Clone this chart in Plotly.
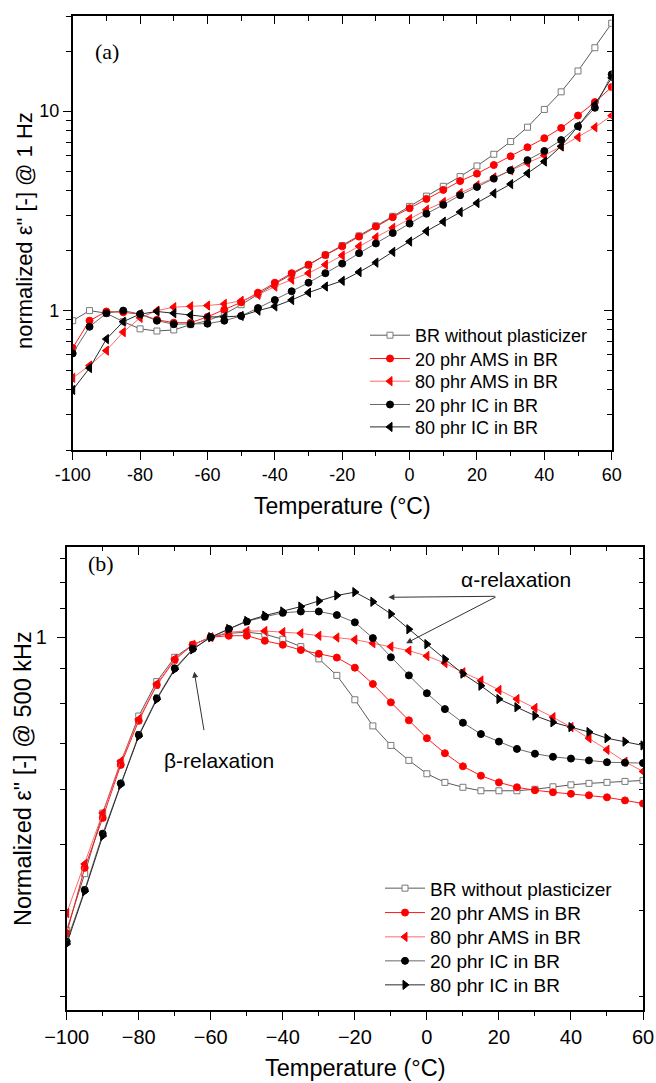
import math
import plotly.graph_objects as go

# Temperature grid shared by both panels (°C)
temps = list(range(-100, 65, 5))

series_names = [
    "BR without plasticizer",
    "20 phr AMS in BR",
    "80 phr AMS in BR",
    "20 phr IC in BR",
    "80 phr IC in BR",
]

# (a) normalized dielectric loss at 1 Hz
a_br = [0.89, 1.0, 0.97, 0.88, 0.81, 0.79, 0.80, 0.85, 0.89,
        0.96, 1.07, 1.21, 1.36, 1.52, 1.69, 1.90, 2.12, 2.37,
        2.66, 2.97, 3.33, 3.75, 4.2, 4.7, 5.31, 6.08, 7.04,
        8.31, 10.2, 12.5, 15.9, 20.8, 27.6]
a_ams20 = [0.65, 0.89, 0.99, 0.98, 0.96, 0.90, 0.87, 0.87, 0.93,
           1.01, 1.10, 1.23, 1.38, 1.54, 1.70, 1.90, 2.10, 2.35,
           2.64, 2.94, 3.26, 3.63, 4.03, 4.46, 4.86, 5.37, 5.94,
           6.59, 7.32, 8.24, 9.51, 11.1, 13.2]
a_ams80 = [0.46, 0.53, 0.63, 0.78, 0.92, 1.0, 1.04, 1.05, 1.06,
           1.08, 1.12, 1.20, 1.32, 1.43, 1.54, 1.70, 1.89, 2.10,
           2.33, 2.60, 2.88, 3.20, 3.50, 3.88, 4.25, 4.65, 5.05,
           5.5, 6.0, 6.65, 7.4, 8.3, 9.5]
a_ic20 = [0.61, 0.83, 0.97, 1.0, 0.96, 0.89, 0.855, 0.855, 0.86,
          0.89, 0.94, 1.03, 1.13, 1.25, 1.38, 1.54, 1.72, 1.94,
          2.17, 2.45, 2.73, 3.06, 3.39, 3.79, 4.17, 4.59, 5.05,
          5.68, 6.31, 7.16, 8.4, 10.4, 15.3]
a_ic80 = [0.40, 0.515, 0.72, 0.88, 0.96, 0.99, 0.97, 0.95, 0.93,
          0.93, 0.94, 1.0, 1.05, 1.13, 1.23, 1.32, 1.41, 1.56,
          1.74, 1.97, 2.22, 2.50, 2.79, 3.12, 3.46, 3.87, 4.31,
          4.88, 5.59, 6.67, 8.4, 10.8, 14.7]

# (b) normalized dielectric loss at 500 kHz
b_br = [0.375, 0.453, 0.555, 0.657, 0.768, 0.862, 0.935, 0.975, 1.0,
        1.013, 1.017, 1.01, 0.993, 0.969, 0.93, 0.88, 0.811, 0.743,
        0.696, 0.662, 0.633, 0.615, 0.605, 0.598, 0.598, 0.598, 0.601,
        0.606, 0.61, 0.613, 0.615, 0.617, 0.619]
b_ams20 = [0.371, 0.462, 0.546, 0.652, 0.756, 0.852, 0.927, 0.975, 1.0,
           1.005, 1.005, 0.988, 0.975, 0.958, 0.946, 0.934, 0.903, 0.855,
           0.804, 0.757, 0.713, 0.678, 0.649, 0.629, 0.615, 0.605, 0.599,
           0.595, 0.592, 0.589, 0.585, 0.579, 0.573]
b_ams80 = [0.397, 0.468, 0.555, 0.66, 0.76, 0.855, 0.93, 0.975, 1.0,
           1.017, 1.021, 1.021, 1.017, 1.013, 1.005, 0.999, 0.992, 0.98,
           0.969, 0.956, 0.939, 0.917, 0.889, 0.865, 0.838, 0.813, 0.789,
           0.765, 0.74, 0.713, 0.686, 0.659, 0.638]
b_ic20 = [0.361, 0.429, 0.518, 0.613, 0.721, 0.815, 0.901, 0.962, 1.0,
          1.028, 1.054, 1.071, 1.085, 1.09, 1.09, 1.077, 1.051, 0.997,
          0.935, 0.88, 0.829, 0.786, 0.751, 0.723, 0.705, 0.688, 0.677,
          0.67, 0.666, 0.662, 0.658, 0.657, 0.656]
b_ic80 = [0.358, 0.427, 0.514, 0.61, 0.718, 0.812, 0.898, 0.96, 1.0,
          1.028, 1.056, 1.075, 1.09, 1.108, 1.129, 1.15, 1.163, 1.126,
          1.081, 1.027, 0.977, 0.929, 0.885, 0.85, 0.813, 0.791, 0.769,
          0.752, 0.74, 0.728, 0.713, 0.705, 0.696]

# Axis ticks
x_ticks = [-100, -80, -60, -40, -20, 0, 20, 40, 60]
x_ticktext_a = ["-100", "-80", "-60", "-40", "-20", "0", "20", "40", "60"]
x_minor = [-90, -70, -50, -30, -10, 10, 30, 50]
ya_ticks = [1, 10]
ya_ticktext = ["1", "10"]
ya_minor = [0.2, 0.3, 0.4, 0.5, 0.6, 0.7, 0.8, 0.9,
            2, 3, 4, 5, 6, 7, 8, 9, 20, 30]
yb_ticks = [1]
yb_ticktext = ["1"]
yb_minor = [0.3, 0.4, 0.5, 0.6, 0.7, 0.8, 0.9, 1.1, 1.2, 1.3]

W, H = 656, 1083
SANS = "Liberation Sans, Arial, sans-serif"
SERIF = "Liberation Serif, Times New Roman, serif"

# per-series styling: (line colour, line width, symbol, fill, edge colour, size)
styles_a = [
    ("#5a5a5a", 1.0, "square", "white", "#7a7a7a", 6),
    ("#ff1a1a", 1.0, "circle", "#ff0000", "#ff0000", 7),
    ("#ff5a5a", 0.9, "triangle-left", "#ff0000", "#ff0000", 8),
    ("#6a6a6a", 1.0, "circle", "#000000", "#000000", 7),
    ("#2a2a2a", 1.0, "triangle-left", "#000000", "#000000", 8),
]
styles_b = list(styles_a)
styles_b[4] = ("#2a2a2a", 1.0, "triangle-right", "#000000", "#000000", 8)

# legend row placement (pixels): left edge of key block and row centres
leg_a_left, leg_a_rows, leg_a_font = 365, [335, 358.3, 381, 404.3, 426.7], 18
leg_b_left, leg_b_rows, leg_b_font = 380, [887.3, 911.7, 936, 960, 984], 19

fig = go.Figure()
legends = {}

panels = [
    ("x", "y", [a_br, a_ams20, a_ams80, a_ic20, a_ic80], styles_a, leg_a_left, leg_a_rows, leg_a_font),
    ("x2", "y2", [b_br, b_ams20, b_ams80, b_ic20, b_ic80], styles_b, leg_b_left, leg_b_rows, leg_b_font),
]
k = 0
for xa, ya, data, styles, lx, rows, lfont in panels:
    for name, ys, st, row in zip(series_names, data, styles, rows):
        k += 1
        lid = "legend" if k == 1 else f"legend{k}"
        lc, lw, sym, fill, edge, size = st
        fig.add_trace(go.Scatter(
            x=temps, y=ys, name=name, mode="lines+markers",
            xaxis=xa, yaxis=ya, legend=lid,
            line=dict(color=lc, width=lw),
            marker=dict(symbol=sym, size=size, color=fill, line=dict(color=edge, width=1)),
        ))
        legends[lid] = dict(x=lx / W, y=1 - (row - 18) / H, xanchor="left", yanchor="top",
                            bgcolor="rgba(0,0,0,0)", borderwidth=0, itemwidth=40,
                            font=dict(size=lfont, family=SANS, color="black"))

# empty traces that carry the inward-ticked top/right frame axes
fig.add_trace(go.Scatter(x=[], y=[], xaxis="x3", yaxis="y3", showlegend=False, hoverinfo="skip"))
fig.add_trace(go.Scatter(x=[], y=[], xaxis="x4", yaxis="y4", showlegend=False, hoverinfo="skip"))

# panel geometry in pixels
a_left, a_right, a_top, a_bottom = 72.7, 611.7, 16, 450
b_left, b_right, b_top, b_bottom = 66.7, 643.0, 546.7, 1010

dom_xa = [a_left / W, a_right / W]
dom_ya = [1 - a_bottom / H, 1 - a_top / H]
dom_xb = [b_left / W, b_right / W]
dom_yb = [1 - b_bottom / H, 1 - b_top / H]

ya_range = [math.log10(0.2), math.log10(30)]
yb_range = [math.log10(0.287), math.log10(1.354)]

frame = dict(showline=True, linecolor="black", linewidth=1.5, mirror=True,
             showgrid=False, zeroline=False, automargin=False)
overlay = dict(showline=False, showgrid=False, zeroline=False, automargin=False,
               showticklabels=False, ticks="inside", ticklen=8, tickwidth=1.3,
               tickcolor="black")


def minor_ticks(vals, where):
    return dict(tickmode="array", tickvals=vals, ticks=where,
                ticklen=4.5, tickwidth=1.1, tickcolor="black")


fig.update_layout(
    width=W, height=H,
    margin=dict(l=0, r=0, t=0, b=0, pad=0),
    paper_bgcolor="white", plot_bgcolor="white",
    font=dict(family=SANS, color="black"),
    xaxis=dict(domain=dom_xa, anchor="y", range=[-100, 60],
               tickmode="array", tickvals=x_ticks, ticktext=x_ticktext_a,
               ticks="outside", ticklen=8, tickwidth=1.3, tickcolor="black",
               tickfont=dict(size=18, family=SANS, color="black"),
               minor=minor_ticks(x_minor, "outside"), **frame),
    yaxis=dict(domain=dom_ya, anchor="x", type="log", range=ya_range,
               tickmode="array", tickvals=ya_ticks, ticktext=ya_ticktext,
               ticks="outside", ticklen=8, tickwidth=1.3, tickcolor="black",
               tickfont=dict(size=18, family=SANS, color="black"),
               minor=minor_ticks(ya_minor, "outside"), **frame),
    xaxis3=dict(overlaying="x", anchor="y", side="top", range=[-100, 60],
                tickmode="array", tickvals=x_ticks,
                minor=minor_ticks(x_minor, "inside"), **overlay),
    yaxis3=dict(overlaying="y", anchor="x", side="right", type="log", range=ya_range,
                tickmode="array", tickvals=ya_ticks,
                minor=minor_ticks(ya_minor, "inside"), **overlay),
    xaxis2=dict(domain=dom_xb, anchor="y2", range=[-100, 60],
                tickmode="linear", tick0=-100, dtick=20,
                ticks="outside", ticklen=8, tickwidth=1.3, tickcolor="black",
                tickfont=dict(size=20, family=SANS, color="black"),
                minor=minor_ticks(x_minor, "outside"), **frame),
    yaxis2=dict(domain=dom_yb, anchor="x2", type="log", range=yb_range,
                tickmode="array", tickvals=yb_ticks, ticktext=yb_ticktext,
                ticks="outside", ticklen=8, tickwidth=1.3, tickcolor="black",
                tickfont=dict(size=20, family=SANS, color="black"), ticklabelstandoff=6,
                minor=minor_ticks(yb_minor, "outside"), **frame),
    xaxis4=dict(overlaying="x2", anchor="y2", side="top", range=[-100, 60],
                tickmode="linear", tick0=-100, dtick=20,
                minor=minor_ticks(x_minor, "inside"), **overlay),
    yaxis4=dict(overlaying="y2", anchor="x2", side="right", type="log", range=yb_range,
                tickmode="array", tickvals=yb_ticks,
                minor=minor_ticks(yb_minor, "inside"), **overlay),
    showlegend=True,
    **legends,
)

centred = dict(xanchor="center", yanchor="middle", showarrow=False)
annotations = [
    # axis titles
    dict(text="Temperature (°C)", xref="paper", yref="paper",
         x=(a_left + a_right) / 2 / W, y=1 - 506 / H,
         font=dict(size=23, family=SANS), **centred),
    dict(text="normalized ε\" [-] @ 1 Hz", xref="paper", yref="paper",
         x=25 / W, y=1 - 231 / H, textangle=-90,
         font=dict(size=22, family=SANS), **centred),
    dict(text="Temperature (°C)", xref="paper", yref="paper",
         x=(b_left + b_right) / 2 / W, y=1 - 1068 / H,
         font=dict(size=23.5, family=SANS), **centred),
    dict(text="Normalized ε\" [-] @ 500 kHz", xref="paper", yref="paper",
         x=23 / W, y=1 - 779 / H, textangle=-90,
         font=dict(size=23.5, family=SANS), **centred),
    # panel labels
    dict(text="(a)", xref="x", yref="y", x=-89.8, y=math.log10(19.8),
         font=dict(size=22, family=SERIF), **centred),
    dict(text="(b)", xref="x2", yref="y2", x=-90.5, y=math.log10(1.28),
         font=dict(size=22, family=SERIF), **centred),
    # relaxation labels
    dict(text="β-relaxation", xref="x2", yref="y2", x=-57.7, y=math.log10(0.661),
         font=dict(size=21, family=SANS), **centred),
    dict(text="α-relaxation", xref="x2", yref="y2", x=24.7, y=math.log10(1.215),
         font=dict(size=21, family=SANS), **centred),
    # arrows
    dict(text="", xref="x2", yref="y2", x=-64.6, y=math.log10(0.891),
         ax=10, ay=60, showarrow=True, arrowhead=2, arrowsize=1.2,
         arrowwidth=1, arrowcolor="#333333"),
    dict(text="", xref="x2", yref="y2", x=-10.7, y=math.log10(1.143),
         ax=108, ay=-1, showarrow=True, arrowhead=2, arrowsize=1.2,
         arrowwidth=1, arrowcolor="#333333"),
    dict(text="", xref="x2", yref="y2", x=-5.75, y=math.log10(0.98),
         ax=91, ay=-47, showarrow=True, arrowhead=2, arrowsize=1.2,
         arrowwidth=1, arrowcolor="#333333"),
]
fig.update_layout(annotations=annotations)

fig.write_html("out.html")
